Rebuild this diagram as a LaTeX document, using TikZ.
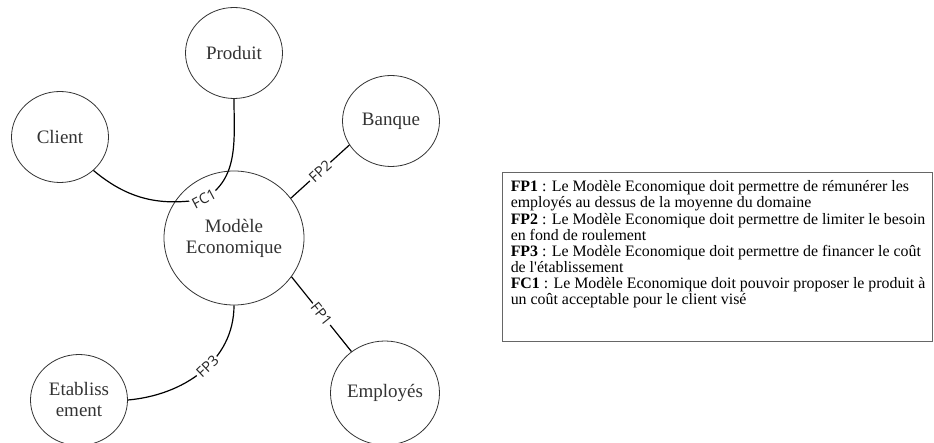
\documentclass[tikz,border=0pt]{standalone}
\usepackage{fontspec}
\setmainfont{Liberation Serif}[Ligatures=TeXOff]
\newfontfamily\lblfont{Open Sans}
\usetikzlibrary{shapes.geometric, positioning}
\definecolor{cInk}{HTML}{333333}
\definecolor{cBox}{HTML}{666666}

\begin{document}
\begin{tikzpicture}[x=1pt, y=-1pt,
    actor/.style={ellipse, draw=cInk, line width=0.8pt, minimum width=97pt, minimum height=91pt,
      align=center, inner sep=0pt, font=\fontsize{19}{21}\selectfont, text=cInk},
    link/.style={line width=1.2pt, black},
    fn/.style={fill=white, inner sep=1.5pt, font=\lblfont\fontsize{14.5}{15}\selectfont, text=black!85, sloped}]
  \useasboundingbox (0,0) rectangle (934,443);
  % acteurs
  \node[actor, minimum width=140pt, minimum height=134pt] (mo) at (234,238) {Modèle\\Economique};
  \node[actor] (pr) at (234,53) {Produit};
  \node[actor] (cl) at (60,137) {Client};
  \node[actor] (ba) at (391,121) {Banque};
  \node[actor] (et) at (79,400) {Etabliss\\ement};
  \node[actor, minimum width=109pt, minimum height=104pt] (em) at (385,393) {Employés};
  % fonctions
  \coordinate (fc1) at (204,199);
  \draw[link] (cl.-45) to[out=-40, in=190] (fc1) to[out=30, in=-90] (pr.south);
  \node[fn, rotate=28] at (fc1) {FC1};
  \draw[link] (mo.35) -- node[fn] {FP2} (ba.210);
  \draw[link] (mo.-34) -- node[fn] {FP1} (em.129);
  \draw[link] (mo.south) to[out=-90, in=5] node[fn, pos=0.45] {FP3} (et.east);
  % legende
  \node[draw=cBox, line width=0.9pt, minimum width=430pt, minimum height=169pt, inner sep=0pt] (lg) at (717,256.5) {};
  \node[anchor=north west, align=left, inner sep=0pt, font=\fontsize{15.9}{16.1}\selectfont]
    (lgt) at ([xshift=9pt, yshift=-9pt]lg.north west)
    {\textbf{FP1} : Le Modèle Economique doit permettre de rémunérer les\\
     employés au dessus de la moyenne du domaine\\
     \textbf{FP2} : Le Modèle Economique doit permettre de limiter le besoin\\
     en fond de roulement\\
     \textbf{FP3} : Le Modèle Economique doit permettre de financer le coût\\
     de l'établissement\\
     \textbf{FC1} : Le Modèle Economique doit pouvoir proposer le produit à\\
     un coût acceptable pour le client visé};
\end{tikzpicture}
\end{document}
